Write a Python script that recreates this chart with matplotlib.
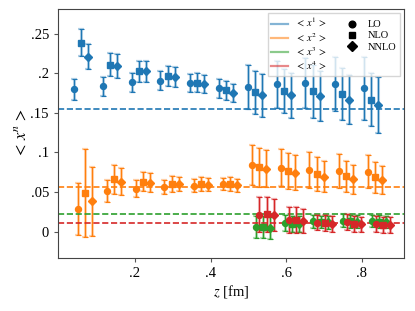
import matplotlib
matplotlib.use('Agg')
import matplotlib.pyplot as plt
from matplotlib.lines import Line2D

plt.rcParams['font.family'] = ['Liberation Serif', 'DejaVu Serif']
plt.rcParams['mathtext.fontset'] = 'stix'

# ---------------- data ----------------
z = [0.077, 0.153, 0.230, 0.306, 0.383, 0.460, 0.536, 0.613, 0.689, 0.766, 0.843]

# <x^1>
x1_lo = [0.1794, 0.1836, 0.1887, 0.1904, 0.1874, 0.1811, 0.1824, 0.1862, 0.1878, 0.1862, 0.1807]
x1_lo_err = [0.0127, 0.0120, 0.0120, 0.0118, 0.0118, 0.0120, 0.0277, 0.0296, 0.0317, 0.0345, 0.0395]
x1_nlo = [0.2386, 0.2107, 0.2023, 0.1959, 0.1878, 0.1782, 0.1756, 0.1773, 0.1769, 0.1735, 0.1667]
x1_nlo_err = [0.0169, 0.0146, 0.0130, 0.0127, 0.0120, 0.0118, 0.0270, 0.0280, 0.0334, 0.0330, 0.0340]
x1_nnlo = [0.2208, 0.2090, 0.2023, 0.1950, 0.1858, 0.1747, 0.1718, 0.1718, 0.1710, 0.1667, 0.1600]
x1_nnlo_err = [0.0157, 0.0146, 0.0130, 0.0127, 0.0114, 0.0114, 0.0269, 0.0280, 0.0320, 0.0310, 0.0350]

# <x^2>
x2_lo = [0.0284, 0.0508, 0.0542, 0.0563, 0.0580, 0.0601, 0.0842, 0.0808, 0.0779, 0.0762, 0.0758]
x2_lo_err = [0.0330, 0.0137, 0.0106, 0.0091, 0.0080, 0.0080, 0.0250, 0.0237, 0.0228, 0.0216, 0.0207]
x2_nlo = [0.0487, 0.0660, 0.0627, 0.0601, 0.0597, 0.0601, 0.0812, 0.0766, 0.0728, 0.0698, 0.0685]
x2_nlo_err = [0.0561, 0.0180, 0.0120, 0.0101, 0.0087, 0.0087, 0.0245, 0.0226, 0.0216, 0.0197, 0.0195]
x2_nnlo = [0.0381, 0.0631, 0.0618, 0.0601, 0.0593, 0.0584, 0.0792, 0.0741, 0.0694, 0.0660, 0.0652]
x2_nnlo_err = [0.0438, 0.0171, 0.0118, 0.0091, 0.0087, 0.0080, 0.0233, 0.0222, 0.0197, 0.0184, 0.0175]

# <x^3>, <x^4> (only for the last five z)
z34 = z[6:]
x3_lo = [0.0056, 0.0107, 0.0127, 0.0136, 0.0132]
x3_lo_err = [0.0140, 0.0100, 0.0080, 0.0080, 0.0080]
x3_nlo = [0.0056, 0.0098, 0.0120, 0.0127, 0.0125]
x3_nlo_err = [0.0140, 0.0100, 0.0080, 0.0080, 0.0080]
x3_nnlo = [0.0043, 0.0094, 0.0118, 0.0125, 0.0120]
x3_nnlo_err = [0.0140, 0.0100, 0.0080, 0.0080, 0.0080]

x4_lo = [0.0212, 0.0148, 0.0114, 0.0122, 0.0099]
x4_lo_err = [0.0222, 0.0160, 0.0100, 0.0100, 0.0100]
x4_nlo = [0.0216, 0.0148, 0.0107, 0.0096, 0.0085]
x4_nlo_err = [0.0222, 0.0160, 0.0100, 0.0100, 0.0100]
x4_nnlo = [0.0210, 0.0136, 0.0098, 0.0090, 0.0081]
x4_nnlo_err = [0.0207, 0.0150, 0.0100, 0.0100, 0.0100]

# dashed reference values
ref_vals = [0.1544, 0.0558, 0.0221, 0.0110]

series_labels = [r'$<\,x^1\,>$', r'$<\,x^2\,>$', r'$<\,x^3\,>$', r'$<\,x^4\,>$']
order_labels = ['LO', 'NLO', 'NNLO']
yticks = [0, 0.05, 0.10, 0.15, 0.20, 0.25]
ytick_labels = ['0', '.05', '.1', '.15', '.2', '.25']
xticks = [0.2, 0.4, 0.6, 0.8]
xtick_labels = ['.2', '.4', '.6', '.8']

# ---------------- plot ----------------
colors = ['C0', 'C1', 'C2', 'C3']
markers = ['o', 's', 'D']
order_shift = [-0.0383, -0.0192, 0.0]
series_shift = [0.0, 0.0105, 0.021, 0.0315]

fig = plt.figure(figsize=(4.15, 3.11), dpi=100)
ax = fig.add_axes([0.1398, 0.1704, 0.8337, 0.8006])

data = [
    (z, [(x1_lo, x1_lo_err), (x1_nlo, x1_nlo_err), (x1_nnlo, x1_nnlo_err)]),
    (z, [(x2_lo, x2_lo_err), (x2_nlo, x2_nlo_err), (x2_nnlo, x2_nnlo_err)]),
    (z34, [(x3_lo, x3_lo_err), (x3_nlo, x3_nlo_err), (x3_nnlo, x3_nnlo_err)]),
    (z34, [(x4_lo, x4_lo_err), (x4_nlo, x4_nlo_err), (x4_nnlo, x4_nnlo_err)]),
]

for si, (zz, orders) in enumerate(data):
    c = colors[si]
    for oi, (vals, errs) in enumerate(orders):
        xs = [v + order_shift[oi] + series_shift[si] for v in zz]
        # light wide band
        ax.errorbar(xs, vals, yerr=errs, fmt='none', ecolor=c, elinewidth=2.2,
                    alpha=0.35, capsize=2, capthick=1.6)
        ax.errorbar(xs, vals, yerr=errs, fmt=markers[oi], color=c, ms=4 if oi else 4.3,
                    ecolor=c, elinewidth=0.8, capsize=1.8, capthick=0.8)
    ax.axhline(ref_vals[si], color=c, ls='--', lw=1.2)

ax.set_xlim(-0.003, 0.911)
ax.set_ylim(-0.0334, 0.281)
ax.set_xticks(xticks)
ax.set_xticklabels(xtick_labels)
ax.set_yticks(yticks)
ax.set_yticklabels(ytick_labels)
ax.tick_params(labelsize=10.5, length=3, color='#555555')
for sp in ax.spines.values():
    sp.set_color('#444444')
ax.set_xlabel(r'$z$ [fm]', fontsize=10.5, labelpad=2)
ax.set_ylabel(r'$<\,x^n\,>$', fontsize=12, labelpad=1)

handles = [Line2D([], [], color=colors[i], lw=1.6, alpha=0.55) for i in range(4)]
handles += [Line2D([], [], color='black', marker=m, ls='none', ms=4.8) for m in markers]
handles += [Line2D([], [], alpha=0)]
labels = series_labels + order_labels + ['']
ax.legend(handles, labels, ncol=2, loc='upper right', fontsize=7.5,
          handlelength=1.6, handletextpad=0.7, labelspacing=0.18, borderpad=0.35,
          columnspacing=1.6, borderaxespad=0.35, fancybox=False, edgecolor='#cccccc')

fig.savefig('out.png', dpi=100)
